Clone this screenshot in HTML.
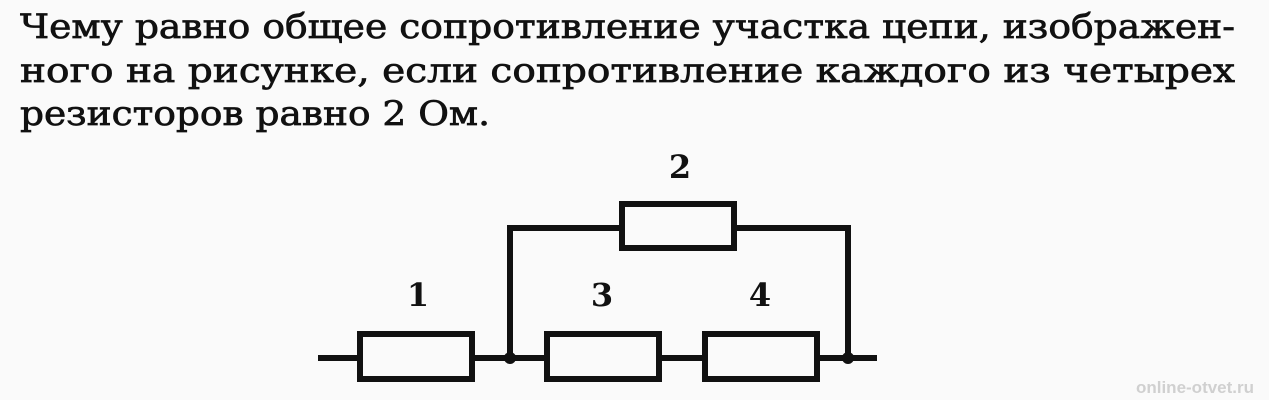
<!DOCTYPE html>
<html><head><meta charset="utf-8"><style>
html,body{margin:0;padding:0;background:#fafafa;}
svg{display:block}
</style></head><body>
<svg width="1269" height="400" viewBox="0 0 1269 400" xmlns="http://www.w3.org/2000/svg">
<rect width="1269" height="400" fill="#fafafa"/>
<g font-family="'DejaVu Serif','Liberation Serif',serif" font-size="34" fill="#111" stroke="#111" stroke-width="0.7">
<text x="20" y="38" textLength="1215" lengthAdjust="spacingAndGlyphs">Чему равно общее сопротивление участка цепи, изображен-</text>
<text x="20" y="82" textLength="1215" lengthAdjust="spacingAndGlyphs">ного на рисунке, если сопротивление каждого из четырех</text>
<text x="20" y="125" textLength="470" lengthAdjust="spacingAndGlyphs">резисторов равно 2 Ом.</text>
</g>
<g font-family="'DejaVu Serif','Liberation Serif',serif" font-size="32" font-weight="bold" fill="#111" text-anchor="middle">
<text x="680" y="178">2</text>
<text x="418" y="306">1</text>
<text x="602" y="306">3</text>
<text x="760" y="306">4</text>
</g>
<g stroke="#111" stroke-width="6" fill="none">
<line x1="318" y1="358" x2="358" y2="358"/>
<line x1="472" y1="358" x2="545" y2="358"/>
<line x1="659" y1="358" x2="705" y2="358"/>
<line x1="817" y1="358" x2="877" y2="358"/>
<polyline points="510,358 510,228 621,228"/>
<polyline points="734,228 848,228 848,358"/>
<rect x="360" y="334" width="112" height="45" fill="#fafafa"/>
<rect x="547" y="334" width="112" height="45" fill="#fafafa"/>
<rect x="705" y="334" width="112" height="45" fill="#fafafa"/>
<rect x="622" y="204" width="112" height="44" fill="#fafafa"/>
</g>
<circle cx="510" cy="358" r="6" fill="#111"/>
<circle cx="848" cy="358" r="6" fill="#111"/>
<text x="1195" y="393" text-anchor="middle" font-family="'Liberation Sans',sans-serif" font-size="17" font-weight="bold" fill="#d0d0d0">online-otvet.ru</text>
</svg>
</body></html>
